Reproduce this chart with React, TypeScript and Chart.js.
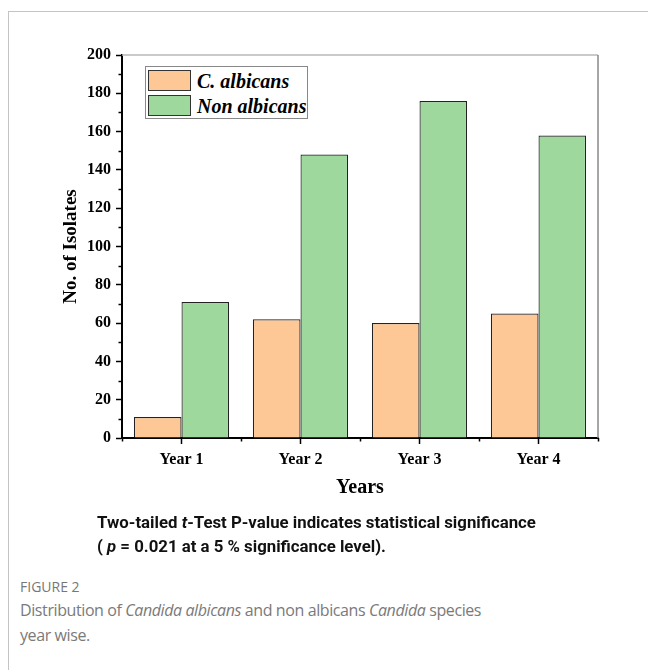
import React, { useEffect, useRef } from "react";
import { Chart, registerables } from "chart.js";

Chart.register(...registerables);

const categories = ["Year 1", "Year 2", "Year 3", "Year 4"];
const albicans = [11, 62, 60, 65];
const nonAlbicans = [71, 148, 176, 158];
const seriesNames = ["C. albicans", "Non albicans"];
const colors = ["#FDC896", "#9FD89D"];

const serif = "'Liberation Serif', 'Times New Roman', serif";

const framePlugin = {
  id: "framePlugin",
  afterDraw(chart: any) {
    const { ctx, chartArea } = chart;
    const y = chart.scales.y;
    const x = chart.scales.x;
    ctx.save();
    ctx.strokeStyle = "#b8b8b8";
    ctx.lineWidth = 1.5;
    ctx.beginPath();
    ctx.moveTo(chartArea.left, chartArea.top);
    ctx.lineTo(chartArea.right, chartArea.top);
    ctx.stroke();
    ctx.strokeStyle = "#888";
    ctx.beginPath();
    ctx.moveTo(chartArea.right, chartArea.top);
    ctx.lineTo(chartArea.right, chartArea.bottom);
    ctx.stroke();
    ctx.strokeStyle = "#000";
    ctx.lineWidth = 1.5;
    for (let v = 10; v < 200; v += 20) {
      const py = Math.round(y.getPixelForValue(v)) + 0.5;
      ctx.beginPath();
      ctx.moveTo(chartArea.left - 3.5, py);
      ctx.lineTo(chartArea.left, py);
      ctx.stroke();
    }
    for (let i = 0; i <= categories.length; i++) {
      const px = Math.round(x.getPixelForValue(i - 0.5)) + 0.5;
      ctx.beginPath();
      ctx.moveTo(px, chartArea.bottom);
      ctx.lineTo(px, chartArea.bottom + 3.5);
      ctx.stroke();
    }
    ctx.restore();
  },
};

function ChartBox() {
  const ref = useRef<HTMLCanvasElement>(null);
  useEffect(() => {
    if (!ref.current) return;
    const chart = new Chart(ref.current, {
      type: "bar",
      data: {
        labels: categories,
        datasets: [
          {
            label: seriesNames[0],
            data: albicans,
            backgroundColor: colors[0],
            borderColor: "#222",
            borderWidth: 1.2,
            categoryPercentage: 0.8,
            barPercentage: 1.0,
          },
          {
            label: seriesNames[1],
            data: nonAlbicans,
            backgroundColor: colors[1],
            borderColor: "#222",
            borderWidth: 1.2,
            categoryPercentage: 0.8,
            barPercentage: 1.0,
          },
        ],
      },
      options: {
        animation: false,
        responsive: false,
        maintainAspectRatio: false,
        layout: { padding: { left: 40, top: 55, right: 50, bottom: 0 } },
        plugins: {
          legend: { display: false },
          tooltip: { enabled: false },
        },
        scales: {
          x: {
            offset: true,
            afterFit(scale: any) {
              scale.height = 82;
            },
            grid: {
              offset: false,
              drawOnChartArea: false,
              tickLength: 6,
              tickColor: "#000",
              tickWidth: 1.5,
            },
            border: { color: "#000", width: 2 },
            ticks: {
              color: "#000",
              padding: 6,
              font: { family: serif, size: 16, weight: "bold" },
            },
            title: {
              display: true,
              text: "Years",
              color: "#000",
              padding: { top: 0, bottom: 20 },
              font: { family: serif, size: 20, weight: "bold" },
            },
          },
          y: {
            min: 0,
            max: 200,
            afterFit(scale: any) {
              scale.width = 82;
            },
            grid: {
              drawOnChartArea: false,
              tickLength: 6,
              tickColor: "#000",
              tickWidth: 1.5,
            },
            border: { color: "#000", width: 2 },
            ticks: {
              stepSize: 20,
              color: "#000",
              padding: 5,
              font: { family: serif, size: 16, weight: "bold" },
            },
            title: {
              display: true,
              text: "No. of Isolates",
              color: "#000",
              padding: { top: 20, bottom: 0 },
              font: { family: serif, size: 19, weight: "bold" },
            },
          },
        },
      },
      plugins: [framePlugin],
    });
    return () => chart.destroy();
  }, []);
  return (
    <canvas
      ref={ref}
      width={648}
      height={520}
      style={{ position: "absolute", left: 0, top: 0, width: 648, height: 520 }}
    />
  );
}

export default function App() {
  const swatch = (c: string, top: number) => (
    <div
      style={{
        position: "absolute",
        left: 148,
        top,
        width: 43,
        height: 21,
        background: c,
        border: "1px solid #333",
        boxSizing: "border-box",
      }}
    />
  );
  const legText = (t: string, top: number) => (
    <div
      style={{
        position: "absolute",
        left: 197,
        top,
        fontFamily: serif,
        fontStyle: "italic",
        fontWeight: "bold",
        fontSize: 20,
        lineHeight: "22px",
        color: "#000",
        whiteSpace: "nowrap",
      }}
    >
      {t}
    </div>
  );
  return (
    <div style={{ position: "absolute", left: 0, top: 0, width: 648, height: 670, overflow: "hidden", background: "#fff" }}>
      <div
        style={{
          position: "absolute",
          left: 8,
          top: 11,
          width: 700,
          height: 700,
          border: "1px solid #c4c4c4",
          boxSizing: "border-box",
        }}
      />
      <ChartBox />
      <div
        style={{
          position: "absolute",
          left: 145,
          top: 66,
          width: 163,
          height: 53,
          border: "1px solid #888",
          boxSizing: "border-box",
          background: "#fff",
        }}
      />
      {swatch(colors[0], 70)}
      {swatch(colors[1], 95)}
      {legText(seriesNames[0], 70)}
      {legText(seriesNames[1], 95)}
      <div
        style={{
          position: "absolute",
          left: 97,
          top: 510,
          fontFamily: "'Roboto', sans-serif",
          fontWeight: "bold",
          fontSize: 16.8,
          lineHeight: "24px",
          color: "#111",
          whiteSpace: "nowrap",
        }}
      >
        <div>
          Two-tailed <i>t</i>-Test P-value indicates statistical significance
        </div>
        <div>
          ( <i>p</i> = 0.021 at a 5 % significance level).
        </div>
      </div>
      <div
        style={{
          position: "absolute",
          left: 20,
          top: 578,
          fontFamily: "'Open Sans', sans-serif",
          fontSize: 14,
          lineHeight: "18px",
          color: "#777",
        }}
      >
        FIGURE 2
      </div>
      <div
        style={{
          position: "absolute",
          left: 20,
          top: 598,
          width: 610,
          fontFamily: "'Open Sans', sans-serif",
          fontSize: 16,
          letterSpacing: "-0.4px",
          lineHeight: "25px",
          color: "#7a7a7a",
        }}
      >
        Distribution of <i>Candida albicans</i> and non albicans <i>Candida</i> species
        <br />
        year wise.
      </div>
    </div>
  );
}
